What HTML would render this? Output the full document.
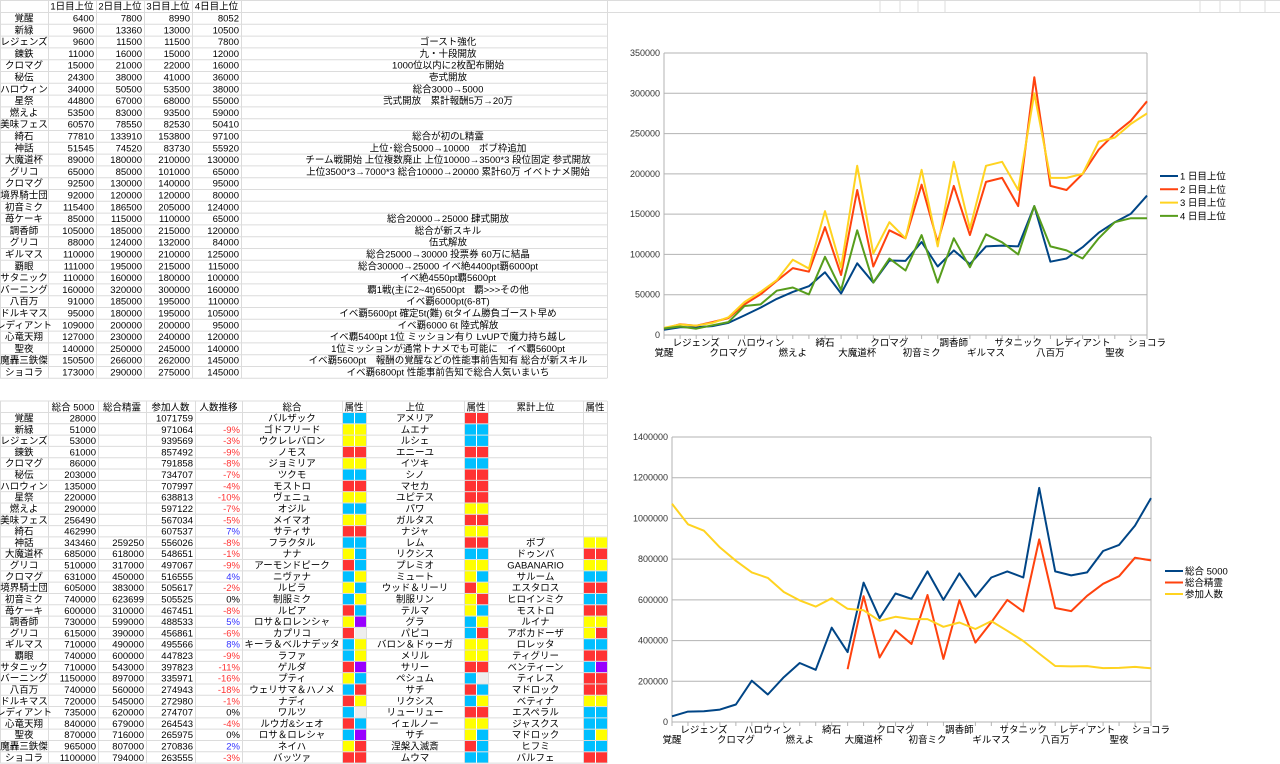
<!DOCTYPE html>
<html><head><meta charset="utf-8"><style>
html,body{margin:0;padding:0;background:#fff;width:1280px;height:764px;overflow:hidden}
svg{display:block}
text{font-family:"Liberation Sans","Noto Sans CJK JP",sans-serif;font-size:9.5px;fill:#000}
</style></head><body>
<svg id="s" width="1280" height="764"></svg>
<script>
const names=["覚醒","新緑","レジェンズ","錬鉄","クロマグ","秘伝","ハロウィン","星祭","燃えよ","美味フェス","綺石","神話","大魔道杯","グリコ","クロマグ","境界騎士団","初音ミク","苺ケーキ","調香師","グリコ","ギルマス","覇眼","サタニック","バーニング","八百万","ドルキマス","レディアント","心竜天翔","聖夜","魔轟三鉄傑","ショコラ"];
const day1=[6400,9600,9600,11000,15000,24300,34000,44800,53500,60570,77810,51545,89000,65000,92500,92000,115400,85000,105000,88000,110000,111000,110000,160000,91000,95000,109000,127000,140000,150500,173000];
const day2=[7800,13360,11500,16000,21000,38000,50500,67000,83000,78550,133910,74520,180000,85000,130000,120000,186500,115000,185000,124000,190000,195000,160000,320000,185000,180000,200000,230000,250000,266000,290000];
const day3=[8990,13000,11500,15000,22000,41000,53500,68000,93500,82530,153800,83730,210000,101000,140000,120000,205000,110000,215000,132000,210000,215000,180000,300000,195000,195000,200000,240000,245000,262000,275000];
const day4=[8052,10500,7800,12000,16000,36000,38000,55000,59000,50410,97100,55920,130000,65000,95000,80000,124000,65000,120000,84000,125000,115000,100000,160000,110000,105000,95000,120000,140000,145000,145000];
const notes=["","","ゴースト強化","九・十段開放","1000位以内に2枚配布開始","壱式開放","総合3000→5000","弐式開放　累計報酬5万→20万","","","総合が初のL精霊","上位･総合5000→10000　ボブ枠追加","チーム戦開始  上位複数廃止  上位10000→3500*3 段位固定  参式開放","上位3500*3→7000*3  総合10000→20000  累計60万  イベトナメ開始","","","","総合20000→25000  肆式開放","総合が新スキル","伍式解放","総合25000→30000  投票券  60万に結晶","総合30000→25000  イベ絶4400pt覇6000pt","イベ絶4550pt覇5600pt","覇1戦(主に2~4t)6500pt　覇>>>その他","イベ覇6000pt(6-8T)","イベ覇5600pt 確定5t(難)  6tタイム勝負ゴースト早め","イベ覇6000  6t  陸式解放","イベ覇5400pt  1位 ミッション有り  LvUPで魔力持ち越し","1位ミッションが通常トナメでも可能に　イベ覇5600pt","イベ覇5600pt　報酬の覚醒などの性能事前告知有  総合が新スキル","イベ覇6800pt  性能事前告知で総合人気いまいち"];
const sougou5000=[28000,51000,53000,61000,86000,203000,135000,220000,290000,256490,462990,343460,685000,510000,631000,605000,740000,600000,730000,615000,710000,740000,710000,1150000,740000,720000,735000,840000,870000,965000,1100000];
const seirei=[null,null,null,null,null,null,null,null,null,null,null,259250,618000,317000,450000,383000,623699,310000,599000,390000,490000,600000,543000,897000,560000,545000,620000,679000,716000,807000,794000];
const players=[1071759,971064,939569,857492,791858,734707,707997,638813,597122,567034,607537,556026,548651,497067,516555,505617,505525,467451,488533,456861,495566,447823,397823,335971,274943,272980,274707,264543,265975,270836,263555];
const trend=["","-9%","-3%","-9%","-8%","-7%","-4%","-10%","-7%","-5%","7%","-8%","-1%","-9%","4%","-2%","0%","-8%","5%","-6%","8%","-9%","-11%","-16%","-18%","-1%","0%","-4%","0%","2%","-3%"];
const sgName=["バルザック","ゴドフリード","ウクレレバロン","ノモス","ジョミリア","ツクモ","モストロ","ヴェニュ","オジル","メイマオ","サティサ","フラクタル","ナナ","アーモンドピーク","ニヴァナ","ルビラ","制服ミク","ルピア","ロサ＆ロレンシャ","カプリコ","キーラ＆ベルナデッタ","ラファ","ゲルダ","プティ","ウェリサマ＆ハノメ","ナディ","ワルツ","ルウガ&シェオ","ロサ＆ロレシャ","ネイハ","バッツァ"];
const sgAttr=["BB","YY","YY","RR","YY","BB","RR","YY","BB","YY","RR","BB","YB","RB","BY","YB","BY","RB","YP","RG","BY","BY","RP","YB","BR","RY","BG","RB","BP","YR","RR"];
const jyName=["アメリア","ムエナ","ルシェ","エニーユ","イツキ","シノ","マセカ","ユピテス","パワ","ガルタス","ナジャ","レム","リクシス","プレミオ","ミュート","ウッド＆リーリ","制服リン","テルマ","グラ","パピコ","バロン＆ドゥーガ","メリル","サリー","ペシュム","サチ","リクシス","リューリュー","イェルノー","サチ","涅槃入滅斎","ムウマ"];
const jyAttr=["RR","BB","BB","RR","BB","RR","RR","RR","YY","RR","YY","RR","BB","YY","YB","RY","YR","YB","BY","BR","YY","YY","RR","BG","RB","BY","RR","YY","YB","RB","BB"];
const rkName=["","","","","","","","","","","","ボブ","ドゥンバ","GABANARIO","サルーム","エスタロス","ヒロインミク","モストロ","ルイナ","アボカドーザ","ロレッタ","ティグリー","ベンティーン","ティレス","マドロック","ベティナ","エスペラル","ジャスクス","マドロック","ヒフミ","バルフェ"];
const rkAttr=["","","","","","","","","","","","YY","RR","YY","BB","RR","BB","RR","YY","YR","BB","RR","BP","RR","RR","YY","BB","BB","BY","BB","RR"];
const xLabelIdx=[0,2,4,6,8,10,12,14,16,18,20,22,24,26,28,30];
const tickTop=[0,50000,100000,150000,200000,250000,300000,350000];
const tickBot=[0,200000,400000,600000,800000,1000000,1200000,1400000];

const NS="http://www.w3.org/2000/svg";
const svg=document.getElementById('s');
function el(tag,attrs,parent,txt){const e=document.createElementNS(NS,tag);for(const k in attrs)e.setAttribute(k,attrs[k]);if(txt!==undefined)e.textContent=txt;(parent||svg).appendChild(e);return e;}
const colMap={R:"#ff3333",B:"#00bfff",Y:"#ffff00",P:"#9900ff",G:"#eeeeee"};
const GRID="#dcdcdc";

// ---------- top table ----------
const gTop=el('g',{});


const tCols=[0,48,96,144,192,241,607];
const tRowH=11.8,tStart=12.5;
const tEnd=tStart+31*tRowH;
for(let i=0;i<=31;i++){const y=tStart+i*tRowH;el('line',{x1:0,x2:607,y1:y,y2:y,stroke:GRID,'stroke-width':1},gTop);}
el('line',{x1:0,x2:1280,y1:0.5,y2:0.5,stroke:GRID},gTop);
el('line',{x1:607,x2:1280,y1:12.5,y2:12.5,stroke:GRID},gTop);
[880,900,918,945,1200,1220,1240,1265].forEach(x=>el('line',{x1:x,x2:x,y1:0,y2:12.5,stroke:GRID},gTop));
tCols.forEach(x=>el('line',{x1:x+0.5,x2:x+0.5,y1:0,y2:tEnd,stroke:GRID},gTop));
["1日目上位","2日目上位","3日目上位","4日目上位"].forEach((h,i)=>{
  const t=el('text',{x:(tCols[i+1]+tCols[i+2])/2,y:9.5,'text-anchor':'middle'},gTop,h);
  
  
});
const topSeries=[day1,day2,day3,day4];
names.forEach((n,r)=>{
  const y=tStart+r*tRowH+9;
  const t=el('text',{x:24,y:y,'text-anchor':'middle'},gTop,n);
  
  
  topSeries.forEach((s,c)=>{
    const v=el('text',{x:tCols[c+2]-2,y:y,'text-anchor':'end'},gTop,s[r]);
    
    
  });
  if(notes[r]){const nt=el('text',{x:448,y:y,'text-anchor':'middle'},gTop,notes[r]);
    
    }
});

// ---------- bottom table ----------
const gBot=el('g',{});


const bCols=[0,48,98,146,195,242,342,366,464,488,583,607];
const bHead=401,bStart=412.5,bRowH=11.31;
const bEnd=bStart+31*bRowH;
el('line',{x1:0,x2:607,y1:bHead,y2:bHead,stroke:GRID},gBot);
for(let i=0;i<=31;i++){const y=bStart+i*bRowH;el('line',{x1:0,x2:607,y1:y,y2:y,stroke:GRID},gBot);}
bCols.forEach(x=>el('line',{x1:x+0.5,x2:x+0.5,y1:bHead,y2:bEnd,stroke:GRID},gBot));
const bHeads=["総合 5000","総合精霊","参加人数","人数推移","総合","属性","上位","属性","累計上位","属性"];
bHeads.forEach((h,i)=>{
  const t=el('text',{x:(bCols[i+1]+bCols[i+2])/2,y:bHead+9.5,'text-anchor':'middle'},gBot,h);
  
  
});
function attrCells(code,x0,y){
  if(!code)return;
  for(let k=0;k<2;k++){
    const rc=el('rect',{x:x0+1+k*12,y:y+0.5,width:11,height:bRowH-1,fill:colMap[code[k]]},gBot);
    
    
  }
}
names.forEach((n,r)=>{
  const y0=bStart+r*bRowH, y=y0+9;
  const t=el('text',{x:24,y:y,'text-anchor':'middle'},gBot,n);
  
  
  el('text',{x:bCols[2]-2,y:y,'text-anchor':'end'},gBot,sougou5000[r]);
  if(seirei[r]!==null)el('text',{x:bCols[3]-2,y:y,'text-anchor':'end'},gBot,seirei[r]);
  el('text',{x:bCols[4]-2,y:y,'text-anchor':'end'},gBot,players[r]);
  if(trend[r]){const c=trend[r]==="0%"?"#000":(trend[r][0]==="-"?"#ff3333":"#3333ff");
    el('text',{x:bCols[5]-2,y:y,'text-anchor':'end',style:'fill:'+c},gBot,trend[r]);}
  el('text',{x:(bCols[5]+bCols[6])/2,y:y,'text-anchor':'middle'},gBot,sgName[r]);
  attrCells(sgAttr[r],bCols[6],y0);
  el('text',{x:(bCols[7]+bCols[8])/2,y:y,'text-anchor':'middle'},gBot,jyName[r]);
  attrCells(jyAttr[r],bCols[8],y0);
  if(rkName[r])el('text',{x:(bCols[9]+bCols[10])/2,y:y,'text-anchor':'middle'},gBot,rkName[r]);
  attrCells(rkAttr[r],bCols[10],y0);
});

// ---------- charts ----------
function chart(cfg){
  const g=el('g',{});
  
  
  const n=names.length;
  const xs=i=>cfg.x0+(cfg.x1-cfg.x0)*i/(n-1);
  const ys=v=>cfg.y0-(cfg.y0-cfg.y1)*v/cfg.max;
  cfg.ticks.forEach(t=>{
    const ln=el('line',{x1:cfg.x0,x2:cfg.x1,y1:ys(t),y2:ys(t),stroke:'#b3b3b3','stroke-width':1},g);
    
    
    const tx=el('text',{x:cfg.x0-4,y:ys(t)+3,'text-anchor':'end',style:'font-size:9px;fill:#333'},g,t);
    
    
  });
  el('line',{x1:cfg.x0,x2:cfg.x0,y1:cfg.y1,y2:cfg.y0,stroke:'#b3b3b3'},g);
  el('line',{x1:cfg.x1,x2:cfg.x1,y1:cfg.y1,y2:cfg.y0,stroke:'#b3b3b3'},g);
  for(let i=0;i<n;i++){el('line',{x1:xs(i),x2:xs(i),y1:cfg.y0,y2:cfg.y0+4,stroke:'#b3b3b3'},g);}
  xLabelIdx.forEach((i,k)=>{
    const up=(k%2===1);
    const tx=el('text',{x:xs(i),y:cfg.y0+(up?11:21),'text-anchor':'middle',style:'font-size:9.5px'},g,names[i]);
    
    
  });
  cfg.series.forEach((s,si)=>{
    let d="",pen=false;
    s.data.forEach((v,i)=>{if(v===null){pen=false;return;}d+=(pen?"L":"M")+xs(i).toFixed(1)+","+ys(v).toFixed(1);pen=true;});
    const p=el('path',{d:d,fill:'none',stroke:s.color,'stroke-width':2,'stroke-linejoin':'round'},g);
    
    
    const ly=cfg.ly+si*cfg.lstep;
    const ll=el('line',{x1:cfg.lx,x2:cfg.lx+18,y1:ly,y2:ly,stroke:s.color,'stroke-width':2},g);
    
    
    const lt=el('text',{x:cfg.lx+20,y:ly+3.5,style:'font-size:9.5px'},g,s.label);
    
    
  });
}
chart({name:'top-line-chart',x0:664,x1:1147,y0:335,y1:53,max:350000,ticks:tickTop,lx:1160,ly:176,lstep:13.3,
  series:[{data:day1,color:'#004586',label:'1 日目上位'},{data:day2,color:'#ff420e',label:'2 日目上位'},{data:day3,color:'#ffd320',label:'3 日目上位'},{data:day4,color:'#579d1c',label:'4 日目上位'}]});
chart({name:'bottom-line-chart',x0:672,x1:1151,y0:722,y1:437,max:1400000,ticks:tickBot,lx:1165,ly:571,lstep:11.5,
  series:[{data:sougou5000,color:'#004586',label:'総合 5000'},{data:seirei,color:'#ff420e',label:'総合精霊'},{data:players,color:'#ffd320',label:'参加人数'}]});
</script>
</body></html>
